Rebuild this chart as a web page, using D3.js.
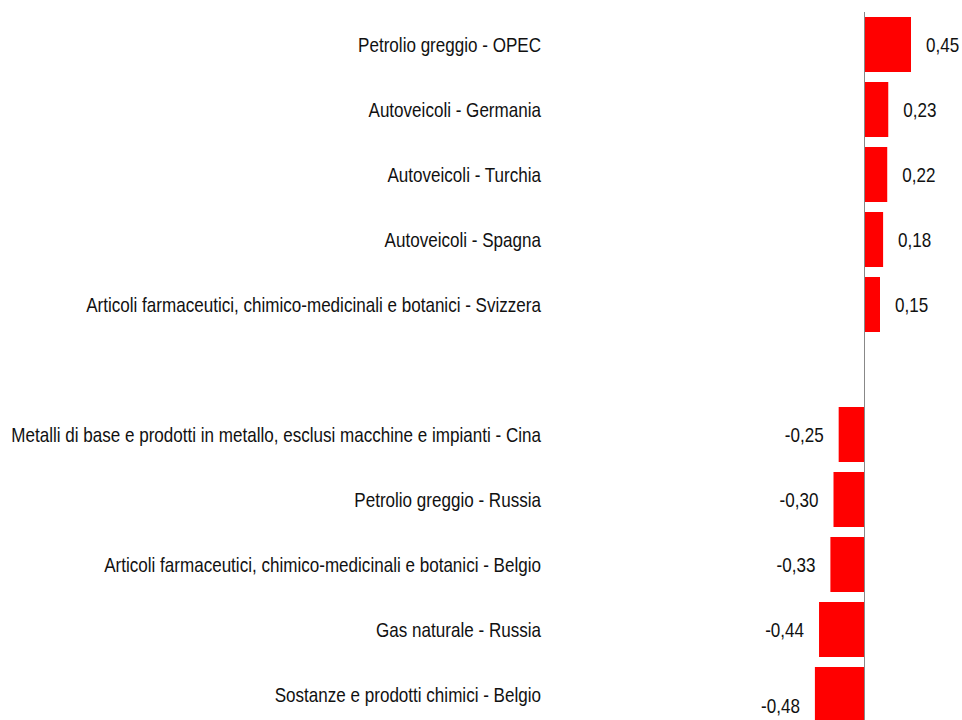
<!DOCTYPE html>
<html>
<head>
<meta charset="utf-8">
<script src="https://cdn.jsdelivr.net/npm/d3@7"></script>
<style>
  html, body { margin: 0; padding: 0; background: #fff; }
  svg { display: block; }
  text { font-family: "Liberation Sans Narrow", "Arial Narrow", "Liberation Sans", Arial, sans-serif; fill: #111; }
</style>
</head>
<body>
<svg id="chart" width="962" height="720"></svg>
<script>
const categories = [
  "Petrolio greggio - OPEC",
  "Autoveicoli - Germania",
  "Autoveicoli - Turchia",
  "Autoveicoli - Spagna",
  "Articoli farmaceutici, chimico-medicinali e botanici - Svizzera",
  "",
  "Metalli di base e prodotti in metallo, esclusi macchine e impianti - Cina",
  "Petrolio greggio - Russia",
  "Articoli farmaceutici, chimico-medicinali e botanici - Belgio",
  "Gas naturale - Russia",
  "Sostanze e prodotti chimici - Belgio"
];
const values = [0.45, 0.23, 0.22, 0.18, 0.15, null, -0.25, -0.30, -0.33, -0.44, -0.48];
const valueLabels = ["0,45", "0,23", "0,22", "0,18", "0,15", "", "-0,25", "-0,30", "-0,33", "-0,44", "-0,48"];

const data = categories.map((c, i) => ({ key: i, cat: c, v: values[i], lab: valueLabels[i] }));

const svg = d3.select("#chart");
const SX = 0.853; // horizontal condensing to mimic a narrow font
const FS = 20;

const p = 10 / 65;
const y = d3.scaleBand()
  .domain(data.map(d => d.key))
  .range([12, 727])
  .paddingInner(p)
  .paddingOuter(p / 2);

const x = d3.scaleLinear().domain([0, 0.45]).range([864.5, 911]);

// bars
svg.append("g").selectAll("rect")
  .data(data.filter(d => d.v !== null))
  .join("rect")
  .attr("x", d => Math.min(x(0), x(d.v)))
  .attr("y", d => y(d.key))
  .attr("width", d => Math.abs(x(d.v) - x(0)))
  .attr("height", y.bandwidth())
  .attr("fill", "#ff0000");

// zero axis line
svg.append("line")
  .attr("x1", x(0)).attr("x2", x(0))
  .attr("y1", 12).attr("y2", 720)
  .attr("stroke", "#888").attr("stroke-width", 1);

// category labels
svg.append("g").selectAll("text")
  .data(data.filter(d => d.cat))
  .join("text")
  .attr("transform", d => `translate(541,${y(d.key) + y.bandwidth() / 2}) scale(${SX},1)`)
  .attr("dy", "0.35em")
  .attr("text-anchor", "end")
  .attr("font-size", FS)
  .text(d => d.cat);

// value labels
const lastKey = data[data.length - 1].key;
svg.append("g").selectAll("text")
  .data(data.filter(d => d.v !== null))
  .join("text")
  .attr("transform", d => {
    const tx = d.v >= 0 ? x(d.v) + 15 : x(d.v) - 15;
    const ty = y(d.key) + y.bandwidth() / 2 + (d.key === lastKey ? 11 : 0);
    return `translate(${tx},${ty}) scale(${SX},1)`;
  })
  .attr("dy", "0.35em")
  .attr("text-anchor", d => d.v >= 0 ? "start" : "end")
  .attr("font-size", FS)
  .text(d => d.lab);
</script>
</body>
</html>
